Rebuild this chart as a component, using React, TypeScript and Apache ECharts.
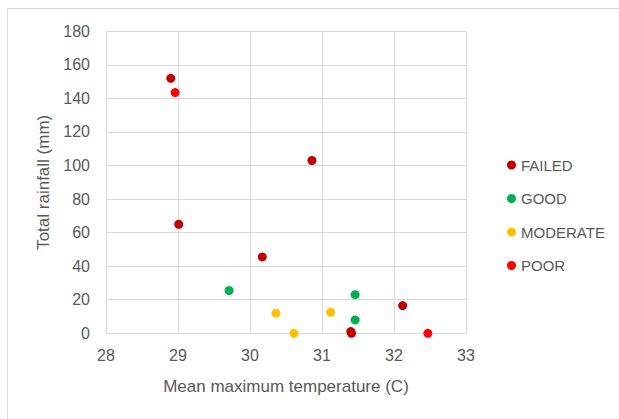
import React, { useEffect, useRef } from "react";
import * as echarts from "echarts";

const categories = ["FAILED", "GOOD", "MODERATE", "POOR"];
const colors = ["#c00000", "#00b050", "#ffc000", "#ff0000"];
const failedPoints: [number, number][] = [
  [28.9, 152],
  [30.86, 103],
  [29.01, 65],
  [30.17, 45.5],
  [32.12, 16.5],
  [31.4, 1],
  [31.41, 0],
];
const goodPoints: [number, number][] = [
  [29.71, 25.5],
  [31.46, 23],
  [31.46, 8],
];
const moderatePoints: [number, number][] = [
  [30.36, 12],
  [30.61, 0],
  [31.12, 12.5],
];
const poorPoints: [number, number][] = [
  [28.96, 143.5],
  [32.47, 0],
];
const seriesData = [failedPoints, goodPoints, moderatePoints, poorPoints];

const FONT = "Liberation Sans";
const TEXT = "#595959";
const GRID = "#d9d9d9";

export default function App() {
  const ref = useRef<HTMLDivElement>(null);
  useEffect(() => {
    if (!ref.current) return;
    const chart = echarts.init(ref.current, undefined, { renderer: "svg" });
    chart.setOption({
      animation: false,
      backgroundColor: "#ffffff",
      graphic: [
        {
          type: "rect",
          shape: { x: 7.5, y: 8.5, width: 640, height: 440 },
          style: { fill: "none", stroke: GRID, lineWidth: 1 },
          silent: true,
        },
      ],
      grid: { left: 106, top: 31.3, right: 153, bottom: 85.7, containLabel: false },
      xAxis: {
        type: "value",
        min: 28,
        max: 33,
        interval: 1,
        name: "Mean maximum temperature (C)",
        nameLocation: "middle",
        nameGap: 45,
        nameTextStyle: { color: TEXT, fontFamily: FONT, fontSize: 17 },
        axisLine: { show: true, lineStyle: { color: GRID, width: 1 } },
        axisTick: { show: false },
        axisLabel: { color: TEXT, fontFamily: FONT, fontSize: 16, margin: 14 },
        splitLine: { show: true, lineStyle: { color: GRID, width: 1 } },
      },
      yAxis: {
        type: "value",
        min: 0,
        max: 180,
        interval: 20,
        name: "Total rainfall (mm)",
        nameLocation: "middle",
        nameGap: 54,
        nameTextStyle: { color: TEXT, fontFamily: FONT, fontSize: 17 },
        axisLine: { show: true, lineStyle: { color: GRID, width: 1 } },
        axisTick: { show: false },
        axisLabel: { color: TEXT, fontFamily: FONT, fontSize: 16, margin: 16 },
        splitLine: { show: true, lineStyle: { color: GRID, width: 1 } },
      },
      legend: {
        orient: "vertical",
        left: 502,
        top: 152,
        itemWidth: 9,
        itemHeight: 9,
        itemGap: 17.5,
        icon: "circle",
        textStyle: { color: TEXT, fontFamily: FONT, fontSize: 15, lineHeight: 16 },
        data: categories,
      },
      series: categories.map((name, i) => ({
        name,
        type: "scatter",
        symbol: "circle",
        symbolSize: 9,
        itemStyle: { color: colors[i], opacity: 1 },
        data: seriesData[i],
      })),
    });
    return () => chart.dispose();
  }, []);
  return (
    <div
      ref={ref}
      style={{ position: "fixed", left: 0, top: 0, width: 619, height: 419 }}
    />
  );
}
